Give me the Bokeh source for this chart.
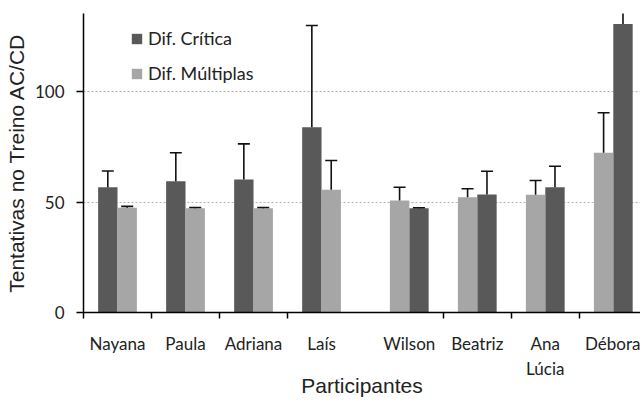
from bokeh.plotting import figure
from bokeh.models import (ColumnDataSource, FixedTicker, Legend, LegendItem,
                          Range1d, CustomJSTickFormatter)
from bokeh.embed import file_html
from bokeh.resources import INLINE

# ---- data ----
participants = ["Nayana", "Paula", "Adriana", "Laís",
                "Wilson", "Beatriz", "Ana\nLúcia", "Débora"]
panel = [0, 0, 0, 0, 1, 1, 1, 1]
dif_critica = [56.7, 59.4, 60.2, 83.8, 47.2, 53.4, 56.7, 130.6]
dif_critica_err = [64.0, 72.3, 76.3, 129.9, 47.4, 63.9, 66.2, 137.0]
dif_multiplas = [47.4, 47.2, 47.2, 55.5, 50.7, 52.2, 53.3, 72.3]
dif_multiplas_err = [48.0, 47.5, 47.5, 68.8, 56.7, 56.0, 59.7, 90.4]
y_ticks = [0, 50, 100]

# ---- layout helpers ----
GAP = 0.29
BW = 0.285
centers = [i + 0.5 + (GAP if panel[i] == 1 else 0) for i in range(len(participants))]
boundaries = [c - 0.5 for i, c in enumerate(centers)
              if not (panel[i] == 1 and panel[i - 1] == 0)]
crit_x = [c + (-BW / 2 if panel[i] == 0 else BW / 2) for i, c in enumerate(centers)]
mult_x = [c + (BW / 2 if panel[i] == 0 else -BW / 2) for i, c in enumerate(centers)]

DARK = "#595959"
LIGHT = "#a6a6a6"

p = figure(width=640, height=400, x_range=Range1d(0, 8.19), y_range=Range1d(0, 135.3),
           output_backend="svg", toolbar_location=None,
           min_border_left=83, min_border_right=0, min_border_top=13, min_border_bottom=88)
p.outline_line_color = None
p.background_fill_color = "white"

src_c = ColumnDataSource(dict(x=crit_x, top=dif_critica, err=dif_critica_err))
src_m = ColumnDataSource(dict(x=mult_x, top=dif_multiplas, err=dif_multiplas_err))

r_c = p.vbar(x="x", top="top", bottom=0, width=BW, source=src_c,
             fill_color=DARK, line_color=None)
r_m = p.vbar(x="x", top="top", bottom=0, width=BW, source=src_m,
             fill_color=LIGHT, line_color=None)

for src in (src_c, src_m):
    p.segment(x0="x", y0="top", x1="x", y1="err", source=src,
              line_color="#111111", line_width=1.6)
    p.scatter(x="x", y="err", marker="dash", size=12, source=src,
              line_color="#111111", line_width=1.6)

# ---- axes ----
xa = p.xaxis[0]
xa.ticker = FixedTicker(ticks=centers, minor_ticks=boundaries)
xa.formatter = CustomJSTickFormatter(args=dict(names=participants),
                                     code="return names[index];")
xa.major_tick_out = 0
xa.major_tick_in = 0
xa.minor_tick_out = 6
xa.minor_tick_in = 0
xa.minor_tick_line_color = "black"
xa.minor_tick_line_width = 1.5
xa.axis_line_color = "black"
xa.axis_line_width = 1.5
xa.major_label_text_font = "Lato"
xa.major_label_text_font_size = "17px"
xa.major_label_text_color = "#222222"
xa.major_label_standoff = 14
xa.axis_label = "Participantes"
xa.axis_label_text_font = "Liberation Sans"
xa.axis_label_text_font_size = "21px"
xa.axis_label_text_font_style = "normal"
xa.axis_label_text_color = "#222222"
xa.axis_label_standoff = -8

ya = p.yaxis[0]
ya.ticker = FixedTicker(ticks=y_ticks, minor_ticks=[])
ya.major_tick_out = 7
ya.major_tick_in = 0
ya.major_tick_line_color = "black"
ya.major_tick_line_width = 1.5
ya.axis_line_color = "black"
ya.axis_line_width = 1.5
ya.major_label_text_font = "Lato"
ya.major_label_text_font_size = "17px"
ya.major_label_text_color = "#222222"
ya.major_label_standoff = 12
ya.axis_label = "Tentativas no Treino AC/CD"
ya.axis_label_text_font = "Liberation Sans"
ya.axis_label_text_font_size = "21px"
ya.axis_label_text_font_style = "normal"
ya.axis_label_text_color = "#222222"
ya.axis_label_standoff = 4

p.xgrid.visible = False
p.ygrid.ticker = FixedTicker(ticks=y_ticks[1:])
p.ygrid.grid_line_color = "#b0b0b0"
p.ygrid.grid_line_dash = "2 2"
p.ygrid.grid_line_width = 1

legend = Legend(items=[LegendItem(label="Dif. Crítica", renderers=[r_c]),
                       LegendItem(label="Dif. Múltiplas", renderers=[r_m])],
                location=(47, 228), orientation="vertical",
                glyph_width=13, glyph_height=13, label_height=13,
                spacing=13, padding=0, margin=0, label_standoff=5,
                border_line_color=None, background_fill_alpha=0,
                label_text_font="Lato", label_text_font_size="18px",
                label_text_color="#222222")
p.add_layout(legend)

open("out.html", "w").write(file_html(p, INLINE))
